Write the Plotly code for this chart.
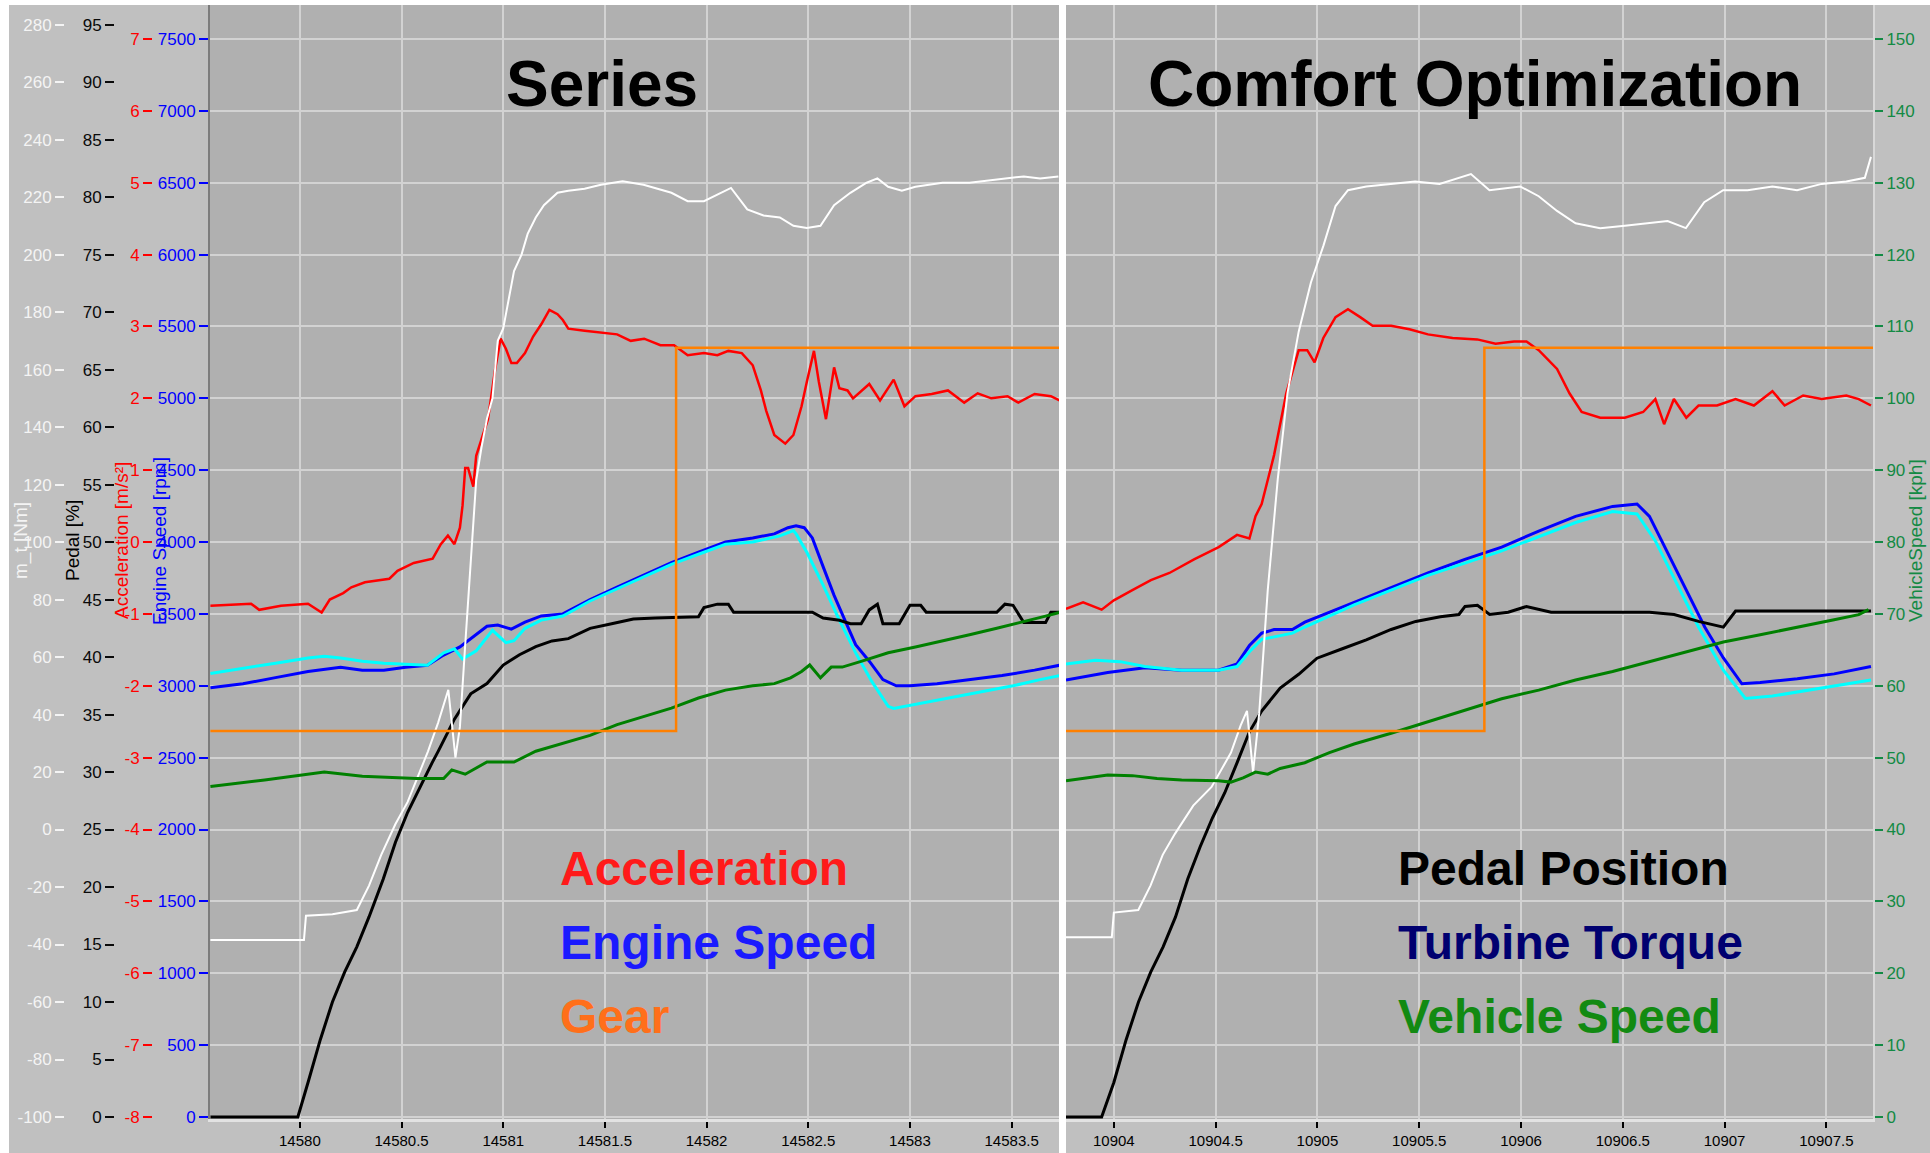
import plotly.graph_objects as go

# ===================== DATA =====================
# ---- left panel: "Series" (time in s) ----
t_mt_l = [14579.56, 14580.02, 14580.03, 14580.16, 14580.28, 14580.34, 14580.40, 14580.47, 14580.53, 14580.59,
          14580.63, 14580.68, 14580.73, 14580.765, 14580.787, 14580.813, 14580.84, 14580.867, 14580.893, 14580.92,
          14580.947, 14580.973, 14581.0, 14581.027, 14581.053, 14581.09, 14581.12, 14581.16, 14581.2, 14581.267,
          14581.32, 14581.4, 14581.48, 14581.587, 14581.69, 14581.827, 14581.907, 14581.987, 14582.067, 14582.12,
          14582.2, 14582.28, 14582.36, 14582.427, 14582.493, 14582.56, 14582.627, 14582.707, 14582.787, 14582.84,
          14582.893, 14582.96, 14583.027, 14583.16, 14583.293, 14583.427, 14583.56, 14583.64, 14583.73]
mt_l = [-38.4, -38.4, -30.0, -29.5, -28.0, -19.5, -8.8, 1.9, 9.6, 19.9,
        27.2, 37.2, 48.6, 25.0, 35.7, 64.3, 92.9, 121.5, 132.9, 142.9,
        150.0, 170.0, 174.3, 184.3, 194.3, 200.0, 207.2, 212.9, 217.2, 221.5,
        222.2, 222.9, 224.3, 225.5, 224.3, 221.5, 218.6, 218.6, 221.5, 223.2,
        215.7, 213.6, 212.9, 210.0, 209.3, 210.0, 217.2, 221.5, 225.0, 226.5,
        223.6, 222.2, 223.6, 225.0, 225.0, 226.0, 227.2, 226.5, 227.2]

t_acc_l = [14579.56, 14579.76, 14579.80, 14579.907, 14580.04, 14580.107, 14580.147, 14580.213, 14580.253, 14580.32,
           14580.44, 14580.48, 14580.56, 14580.653, 14580.693, 14580.728, 14580.76, 14580.787, 14580.80, 14580.813,
           14580.827, 14580.853, 14580.867, 14580.893, 14580.925, 14580.96, 14580.987, 14581.013, 14581.04, 14581.067,
           14581.107, 14581.147, 14581.187, 14581.227, 14581.267, 14581.293, 14581.32, 14581.40, 14581.48, 14581.56,
           14581.627, 14581.693, 14581.773, 14581.84, 14581.907, 14581.987, 14582.053, 14582.107, 14582.173, 14582.227,
           14582.267, 14582.293, 14582.333, 14582.387, 14582.427, 14582.467, 14582.493, 14582.528, 14582.552, 14582.587,
           14582.627, 14582.653, 14582.693, 14582.72, 14582.80, 14582.853, 14582.92, 14582.973, 14583.027, 14583.107,
           14583.187, 14583.267, 14583.333, 14583.40, 14583.48, 14583.533, 14583.613, 14583.693, 14583.736]
acc_l = [-0.886, -0.857, -0.943, -0.886, -0.857, -0.98, -0.80, -0.71, -0.63, -0.56,
         -0.51, -0.40, -0.29, -0.23, -0.03, 0.09, -0.03, 0.20, 0.51, 1.03,
         1.03, 0.77, 1.20, 1.43, 1.71, 2.40, 2.83, 2.69, 2.49, 2.49,
         2.63, 2.86, 3.03, 3.23, 3.17, 3.09, 2.97, 2.94, 2.91, 2.89,
         2.80, 2.83, 2.74, 2.74, 2.60, 2.63, 2.60, 2.66, 2.63, 2.46,
         2.11, 1.83, 1.49, 1.37, 1.49, 1.89, 2.23, 2.66, 2.23, 1.71,
         2.43, 2.14, 2.11, 2.00, 2.20, 1.97, 2.26, 1.89, 2.03, 2.06,
         2.11, 1.94, 2.07, 2.00, 2.03, 1.94, 2.06, 2.03, 1.97]

t_rpm_l = [14579.56, 14579.72, 14579.88, 14580.04, 14580.2, 14580.307, 14580.413, 14580.52, 14580.627, 14580.707,
           14580.787, 14580.867, 14580.92, 14580.973, 14581.04, 14581.107, 14581.187, 14581.293, 14581.427, 14581.56,
           14581.693, 14581.827, 14581.96, 14582.093, 14582.227, 14582.333, 14582.40, 14582.44, 14582.48, 14582.52,
           14582.573, 14582.627, 14582.68, 14582.733, 14582.80, 14582.867, 14582.933, 14583.0, 14583.133, 14583.293,
           14583.453, 14583.613, 14583.736]
rpm_l = [2986, 3014, 3057, 3100, 3129, 3109, 3109, 3129, 3143, 3214,
         3271, 3357, 3414, 3423, 3394, 3443, 3486, 3500, 3600, 3686,
         3771, 3857, 3929, 4000, 4029, 4057, 4100, 4114, 4100, 4029,
         3829, 3629, 3457, 3286, 3171, 3043, 3000, 3000, 3014, 3043,
         3071, 3109, 3143]

t_tur_l = [14579.56, 14579.72, 14579.88, 14580.04, 14580.12, 14580.2, 14580.307, 14580.413, 14580.52, 14580.627,
           14580.707, 14580.76, 14580.80, 14580.867, 14580.947, 14581.013, 14581.053, 14581.107, 14581.187, 14581.293,
           14581.427, 14581.56, 14581.693, 14581.827, 14581.96, 14582.093, 14582.227, 14582.36, 14582.427, 14582.44,
           14582.493, 14582.573, 14582.653, 14582.733, 14582.813, 14582.893, 14582.92, 14583.027, 14583.187, 14583.347,
           14583.507, 14583.64, 14583.736]
tur_l = [3086, 3120, 3157, 3194, 3206, 3194, 3171, 3157, 3149, 3143,
         3229, 3257, 3186, 3243, 3386, 3300, 3314, 3400, 3457, 3486,
         3590, 3676, 3760, 3845, 3915, 3985, 4000, 4043, 4080, 4057,
         3929, 3700, 3457, 3229, 3029, 2857, 2843, 2871, 2914, 2957,
         3000, 3043, 3071]

t_ped_l = [14579.56, 14579.99, 14580.04, 14580.10, 14580.16, 14580.22, 14580.28, 14580.34, 14580.41, 14580.47,
           14580.53, 14580.59, 14580.65, 14580.68, 14580.76, 14580.84, 14580.92, 14581.0, 14581.08, 14581.16,
           14581.24, 14581.32, 14581.427, 14581.533, 14581.64, 14581.747, 14581.96, 14581.987, 14582.053, 14582.107,
           14582.133, 14582.52, 14582.573, 14582.653, 14582.707, 14582.76, 14582.80, 14582.84, 14582.867, 14582.947,
           14583.0, 14583.053, 14583.08, 14583.427, 14583.467, 14583.507, 14583.56, 14583.667, 14583.693, 14583.736]
ped_l = [0, 0, 3.0, 6.7, 10.0, 12.6, 14.8, 17.4, 20.7, 23.9,
         26.5, 28.7, 30.8, 31.8, 34.6, 36.8, 37.7, 39.3, 40.2, 40.9,
         41.4, 41.6, 42.5, 42.9, 43.3, 43.4, 43.5, 44.3, 44.6, 44.6,
         43.9, 43.9, 43.4, 43.2, 42.9, 42.9, 44.1, 44.6, 42.9, 42.9,
         44.5, 44.5, 43.9, 43.9, 44.6, 44.5, 43.0, 43.0, 43.9, 43.9]

t_vs_l = [14579.56, 14579.827, 14580.12, 14580.307, 14580.573, 14580.707, 14580.747, 14580.813, 14580.92, 14581.053,
          14581.16, 14581.293, 14581.427, 14581.56, 14581.693, 14581.827, 14581.96, 14582.093, 14582.227, 14582.333,
          14582.413, 14582.467, 14582.507, 14582.56, 14582.613, 14582.667, 14582.76, 14582.893, 14583.027, 14583.16,
          14583.293, 14583.427, 14583.56, 14583.667, 14583.736]
vs_l = [46.0, 46.9, 48.0, 47.4, 47.1, 47.1, 48.3, 47.7, 49.4, 49.4,
        50.9, 52.0, 53.1, 54.6, 55.7, 56.9, 58.3, 59.4, 60.0, 60.3,
        61.1, 62.0, 62.9, 61.1, 62.6, 62.6, 63.4, 64.6, 65.4, 66.3,
        67.1, 68.0, 68.9, 69.7, 70.2]

t_gear_l = [14579.56, 14581.85, 14583.736]
gear_l = [2, 3, 3]

# ---- right panel: "Comfort Optimization" ----
t_mt_r = [10903.765, 10903.99, 10904.0, 10904.12, 10904.18, 10904.24, 10904.30, 10904.39, 10904.48, 10904.575,
          10904.623, 10904.654, 10904.684, 10904.714, 10904.756, 10904.805, 10904.853, 10904.908, 10904.968, 10905.03,
          10905.089, 10905.15, 10905.24, 10905.36, 10905.48, 10905.60, 10905.754, 10905.845, 10905.996, 10906.087,
          10906.177, 10906.268, 10906.389, 10906.51, 10906.63, 10906.72, 10906.81, 10906.90, 10906.993, 10907.113,
          10907.235, 10907.356, 10907.477, 10907.598, 10907.689, 10907.719]
mt_r = [-37.5, -37.5, -28.9, -28.0, -19.5, -8.8, -1.5, 8.3, 14.8, 26.7,
        36.2, 41.3, 19.9, 40.4, 83.3, 121.8, 151.8, 173.2, 190.3, 203.2,
        216.9, 222.4, 223.7, 224.6, 225.4, 224.6, 228.0, 222.4, 223.7, 220.3,
        215.2, 210.9, 209.2, 210.0, 210.9, 211.7, 209.2, 218.2, 222.4, 222.4,
        223.7, 222.4, 224.6, 225.4, 226.7, 234.0]

t_acc_r = [10903.765, 10903.849, 10903.94, 10904.0, 10904.091, 10904.182, 10904.273, 10904.394, 10904.515, 10904.605,
           10904.666, 10904.696, 10904.726, 10904.756, 10904.787, 10904.817, 10904.847, 10904.908, 10904.95, 10904.986,
           10905.029, 10905.089, 10905.15, 10905.21, 10905.271, 10905.362, 10905.452, 10905.543, 10905.664, 10905.785,
           10905.875, 10905.966, 10906.027, 10906.087, 10906.177, 10906.238, 10906.298, 10906.389, 10906.51, 10906.6,
           10906.66, 10906.703, 10906.751, 10906.812, 10906.872, 10906.963, 10907.054, 10907.144, 10907.235, 10907.295,
           10907.386, 10907.477, 10907.598, 10907.659, 10907.719]
acc_r = [-0.93, -0.84, -0.94, -0.81, -0.67, -0.53, -0.43, -0.24, -0.07, 0.10,
         0.05, 0.36, 0.53, 0.87, 1.21, 1.64, 2.07, 2.67, 2.67, 2.50,
         2.84, 3.13, 3.24, 3.13, 3.01, 3.01, 2.96, 2.89, 2.84, 2.82,
         2.76, 2.79, 2.79, 2.67, 2.41, 2.07, 1.81, 1.73, 1.73, 1.81,
         1.99, 1.64, 1.99, 1.73, 1.90, 1.90, 1.99, 1.90, 2.10, 1.90,
         2.04, 1.99, 2.04, 1.99, 1.90]

t_rpm_r = [10903.765, 10903.97, 10904.152, 10904.333, 10904.514, 10904.605, 10904.666, 10904.726, 10904.787, 10904.877,
           10904.938, 10905.059, 10905.18, 10905.362, 10905.543, 10905.724, 10905.905, 10906.087, 10906.268, 10906.45,
           10906.57, 10906.631, 10906.722, 10906.812, 10906.903, 10906.994, 10907.085, 10907.175, 10907.357, 10907.538,
           10907.719]
rpm_r = [3040, 3092, 3126, 3109, 3109, 3152, 3280, 3366, 3391, 3391,
         3443, 3511, 3580, 3683, 3785, 3880, 3965, 4076, 4179, 4248,
         4265, 4179, 3922, 3665, 3408, 3194, 3014, 3023, 3049, 3083,
         3134]

t_tur_r = [10903.765, 10903.91, 10904.031, 10904.152, 10904.333, 10904.514, 10904.605, 10904.666, 10904.726, 10904.787,
           10904.877, 10904.938, 10905.18, 10905.543, 10905.905, 10906.268, 10906.45, 10906.57, 10906.66, 10906.751,
           10906.872, 10906.994, 10907.102, 10907.235, 10907.417, 10907.598, 10907.719]
tur_r = [3152, 3177, 3168, 3134, 3109, 3109, 3134, 3237, 3323, 3340,
         3366, 3409, 3563, 3768, 3939, 4136, 4213, 4196, 4008, 3751,
         3409, 3109, 2912, 2929, 2972, 3014, 3040]

t_ped_r = [10903.765, 10903.94, 10904.0, 10904.06, 10904.121, 10904.181, 10904.242, 10904.303, 10904.363, 10904.424,
           10904.484, 10904.545, 10904.605, 10904.666, 10904.726, 10904.817, 10904.908, 10904.998, 10905.119, 10905.24,
           10905.362, 10905.483, 10905.604, 10905.695, 10905.725, 10905.786, 10905.846, 10905.937, 10906.027, 10906.148,
           10906.389, 10906.631, 10906.752, 10906.872, 10906.994, 10907.054, 10907.719]
ped_r = [0, 0, 3.0, 6.7, 10.0, 12.6, 14.8, 17.4, 20.7, 23.5,
         26.0, 28.2, 30.8, 33.5, 35.3, 37.3, 38.5, 39.9, 40.7, 41.5,
         42.4, 43.1, 43.5, 43.7, 44.4, 44.5, 43.7, 43.9, 44.4, 43.9,
         43.9, 43.9, 43.7, 43.1, 42.6, 44.0, 44.0]

t_vs_r = [10903.765, 10903.88, 10903.97, 10904.091, 10904.212, 10904.333, 10904.514, 10904.575, 10904.635, 10904.696,
          10904.756, 10904.817, 10904.938, 10905.059, 10905.18, 10905.362, 10905.543, 10905.724, 10905.905, 10906.087,
          10906.268, 10906.45, 10906.631, 10906.812, 10906.994, 10907.175, 10907.357, 10907.538, 10907.659, 10907.707]
vs_r = [46.8, 47.3, 47.6, 47.5, 47.1, 46.9, 46.8, 46.6, 47.2, 48.0,
        47.7, 48.5, 49.3, 50.7, 51.9, 53.4, 55.0, 56.7, 58.2, 59.4,
        60.8, 62.0, 63.4, 64.7, 66.1, 67.1, 68.2, 69.2, 69.9, 70.6]

t_gear_r = [10903.765, 10905.82, 10907.729]
gear_r = [2, 3, 3]

# ---- tick labels ----
x_ticks_l = [14580, 14580.5, 14581, 14581.5, 14582, 14582.5, 14583, 14583.5]
x_ticks_r = [10904, 10904.5, 10905, 10905.5, 10906, 10906.5, 10907, 10907.5]
rpm_ticks = list(range(0, 7501, 500))
acc_ticks = list(range(-8, 8))
ped_ticks = list(range(0, 96, 5))
mt_ticks = list(range(-100, 281, 20))
kph_ticks = list(range(0, 151, 10))

panel_titles = ["Series", "Comfort Optimization"]
legend_left = [("Acceleration", "#ff1a1a"), ("Engine Speed", "#1a1aff"), ("Gear", "#ff6f1a")]
legend_right = [("Pedal Position", "#000000"), ("Turbine Torque", "#000070"), ("Vehicle Speed", "#128a12")]

# ===================== LAYOUT =====================
W, H = 1930, 1153
def px(x): return x / W
def py(y): return 1 - y / H

PLOT_TOP, PLOT_BOT = 5, 1119
Y0_PX, Y7500_PX = 1117, 39
k = (Y0_PX - Y7500_PX) / 7500.0
RPM_RANGE = [(Y0_PX - PLOT_BOT) / k, (Y0_PX - PLOT_TOP) / k]
def rng(f): return [f(RPM_RANGE[0]), f(RPM_RANGE[1])]
to_acc = lambda r: r / 500 - 8
to_ped = lambda r: r / 80
to_mt = lambda r: r / 20 - 100
to_kph = lambda r: r / 50
to_gear = lambda r: 2 + (r - 2685) / 2667

YDOM = [py(PLOT_BOT), py(PLOT_TOP)]
XDOM_L = [px(210), px(1059)]
XDOM_R = [px(1066), px(1873)]
XR_L = [14579.558, 14583.733]
XR_R = [10903.765, 10907.729]

TICKFONT = "Liberation Sans Narrow, Arial Narrow, Liberation Sans, Arial"
TFS = 17
GRID = "#d2d2d2"
C_RED, C_BLUE, C_CYAN, C_GREEN, C_ORANGE = "#ff0000", "#0000ff", "#00ffff", "#008000", "#ff8000"

fig = go.Figure()

def add(x, y, xa, ya, color, width, shape="linear"):
    fig.add_trace(go.Scatter(x=x, y=y, xaxis=xa, yaxis=ya, mode="lines",
                             line=dict(color=color, width=width, shape=shape),
                             hoverinfo="skip", showlegend=False))

# left panel traces
add(t_gear_l, gear_l, "x", "y6", C_ORANGE, 2.5, "hv")
add(t_vs_l, vs_l, "x", "y5", C_GREEN, 3)
add(t_ped_l, ped_l, "x", "y3", "#000000", 3)
add(t_rpm_l, rpm_l, "x", "y", C_BLUE, 3)
add(t_tur_l, tur_l, "x", "y", C_CYAN, 3)
add(t_acc_l, acc_l, "x", "y2", C_RED, 2.5)
add(t_mt_l, mt_l, "x", "y4", "#ffffff", 2)
# right panel traces
add(t_gear_r, gear_r, "x2", "y12", C_ORANGE, 2.5, "hv")
add(t_vs_r, vs_r, "x2", "y11", C_GREEN, 3)
add(t_ped_r, ped_r, "x2", "y9", "#000000", 3)
add(t_rpm_r, rpm_r, "x2", "y7", C_BLUE, 3)
add(t_tur_r, tur_r, "x2", "y7", C_CYAN, 3)
add(t_acc_r, acc_r, "x2", "y8", C_RED, 2.5)
add(t_mt_r, mt_r, "x2", "y10", "#ffffff", 2)

def tick_axis(vals, color, rngv, **kw):
    d = dict(range=rngv, tickmode="array", tickvals=vals, ticktext=[str(v) for v in vals],
             ticks="outside", ticklen=9, tickwidth=2, tickcolor=color,
             tickfont=dict(family=TICKFONT, size=TFS, color=color),
             showgrid=False, zeroline=False, automargin=False, fixedrange=True)
    d.update(kw)
    return d

hidden = lambda rngv, base: dict(range=rngv, overlaying=base, visible=False, anchor="free", position=0)

xcommon = dict(tickmode="array", ticks="outside", ticklen=6, tickwidth=1.5, tickcolor="#000000",
               tickfont=dict(family=TICKFONT, size=15, color="#000000"),
               showgrid=True, gridcolor=GRID, gridwidth=1.5, zeroline=False,
               showline=True, linecolor="#e2e2e2", linewidth=3, automargin=False, fixedrange=True)

fig.update_layout(
    width=W, height=H, margin=dict(l=0, r=0, t=0, b=0),
    paper_bgcolor="#c0c0c0", plot_bgcolor="#b0b0b0", showlegend=False,
    xaxis=dict(domain=XDOM_L, range=XR_L, anchor="y", tickvals=x_ticks_l,
               ticktext=[str(v) for v in x_ticks_l], **xcommon),
    xaxis2=dict(domain=XDOM_R, range=XR_R, anchor="y7", tickvals=x_ticks_r,
                ticktext=[str(v) for v in x_ticks_r], **xcommon),
    yaxis=tick_axis(rpm_ticks, C_BLUE, RPM_RANGE, domain=YDOM, anchor="x", side="left",
                    showgrid=True, gridcolor=GRID, gridwidth=1.5,
                    showline=True, linecolor="#7c7c7c", linewidth=2),
    yaxis2=tick_axis(acc_ticks, C_RED, rng(to_acc), overlaying="y", anchor="free",
                     position=px(152), side="left"),
    yaxis3=tick_axis(ped_ticks, "#0a0a0a", rng(to_ped), overlaying="y", anchor="free",
                     position=px(114), side="left"),
    yaxis4=tick_axis(mt_ticks, "#f4f4f4", rng(to_mt), overlaying="y", anchor="free",
                     position=px(64), side="left"),
    yaxis5=hidden(rng(to_kph), "y"),
    yaxis6=hidden(rng(to_gear), "y"),
    yaxis7=dict(domain=YDOM, anchor="x2", range=RPM_RANGE, tickmode="array", tickvals=rpm_ticks,
                showticklabels=False, ticks="", showgrid=True, gridcolor=GRID, gridwidth=1.5,
                zeroline=False, showline=False, automargin=False, fixedrange=True),
    yaxis8=hidden(rng(to_acc), "y7"),
    yaxis9=hidden(rng(to_ped), "y7"),
    yaxis10=hidden(rng(to_mt), "y7"),
    yaxis11=tick_axis(kph_ticks, "#138a44", rng(to_kph), overlaying="y7", anchor="x2", side="right",
                      ticklen=8, showline=True, linecolor="#d8d8d8", linewidth=2),
    yaxis12=hidden(rng(to_gear), "y7"),
    yaxis13=dict(range=RPM_RANGE, overlaying="y7", anchor="free", position=px(1922), side="right",
                 tickmode="array", tickvals=[7507 - 480 * i for i in range(16)],
                 ticks="outside", ticklen=6, tickwidth=1.5, tickcolor="#8a4a4a",
                 showticklabels=False, showgrid=False, zeroline=False, automargin=False, fixedrange=True),
)

# white frame strips
for x0, x1, y0, y1 in [(0, W, 0, 5), (0, 9, 0, H), (1059, 1066, 0, H)]:
    fig.add_shape(type="rect", xref="paper", yref="paper", x0=px(x0), x1=px(x1),
                  y0=py(y1), y1=py(y0), fillcolor="#ffffff", line=dict(width=0), layer="above")

ann = []
# axis titles
for text, x, color in [("m_t [Nm]", 21, "#f4f4f4"), ("Pedal [%]", 73, "#000000"),
                       ("Acceleration [m/s²]", 122, C_RED), ("Engine Speed [rpm]", 160, C_BLUE),
                       ("VehicleSpeed [kph]", 1916, "#138a44")]:
    ann.append(dict(text=text, x=px(x), y=py(541), xref="paper", yref="paper", showarrow=False,
                    textangle=-90, xanchor="center", yanchor="middle",
                    font=dict(family="Liberation Sans, Arial", size=19, color=color)))
# panel titles
for text, x in zip(panel_titles, [602, 1475]):
    ann.append(dict(text="<b>%s</b>" % text, x=px(x), y=py(84), xref="paper", yref="paper",
                    showarrow=False, xanchor="center", yanchor="middle",
                    font=dict(family="Liberation Sans, Arial", size=64, color="#000000")))
# legend-like labels
for (text, color), y in zip(legend_left, [868, 942, 1016]):
    ann.append(dict(text="<b>%s</b>" % text, x=px(558), y=py(y), xref="paper", yref="paper",
                    showarrow=False, xanchor="left", yanchor="middle",
                    font=dict(family="Liberation Sans, Arial", size=48, color=color)))
for (text, color), y in zip(legend_right, [868, 942, 1016]):
    ann.append(dict(text="<b>%s</b>" % text, x=px(1396), y=py(y), xref="paper", yref="paper",
                    showarrow=False, xanchor="left", yanchor="middle",
                    font=dict(family="Liberation Sans, Arial", size=48, color=color)))
fig.update_layout(annotations=ann)

fig.write_html("out.html", config={"displayModeBar": False},
               post_script="document.body.style.margin='0';document.body.style.overflow='hidden';")
